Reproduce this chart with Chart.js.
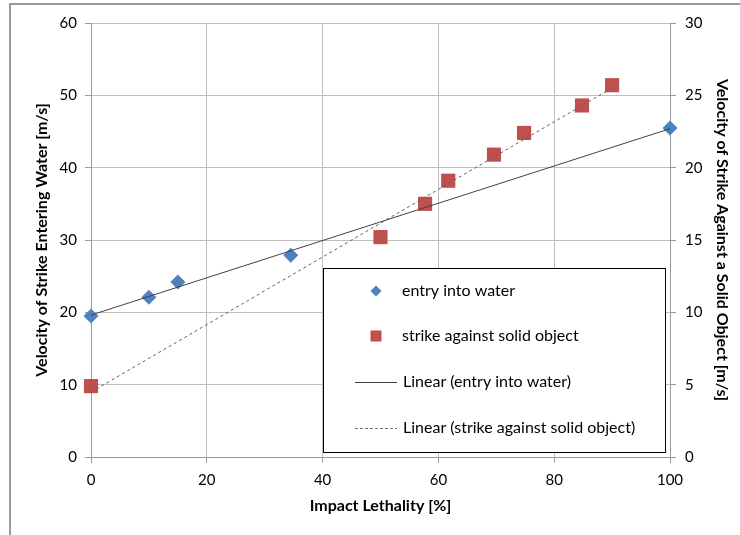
<!DOCTYPE html>
<html>
<head>
<meta charset="utf-8">
<script src="https://cdn.jsdelivr.net/npm/chart.js@4"></script>
<style>
  body { margin: 0; background: #fff; }
  #wrap { position: relative; width: 740px; height: 535px; }
</style>
</head>
<body>
<div id="wrap"><canvas id="strikeChart" width="740" height="535"></canvas></div>
<script>
const impactWater = [0, 10, 15, 34.5, 100];
const velocityWater = [19.5, 22.1, 24.2, 27.9, 45.5];
const impactSolid = [0, 50, 57.7, 61.7, 69.6, 74.8, 84.8, 90];
const velocitySolid = [4.9, 15.2, 17.5, 19.1, 20.9, 22.4, 24.3, 25.7];

const xTicks = [0, 20, 40, 60, 80, 100];
const leftTicks = [0, 10, 20, 30, 40, 50, 60];
const rightTicks = [0, 5, 10, 15, 20, 25, 30];

const legendLabels = [
  'entry into water',
  'strike against solid object',
  'Linear (entry into water)',
  'Linear (strike against solid object)'
];

const FONT = 'Lato, "Liberation Sans", sans-serif';
const BLUE = '#4F81BD';
const RED = '#C0504D';
const GRID = '#bfbfbf';

function linearFit(xs, ys) {
  const n = xs.length;
  const mx = xs.reduce((a, b) => a + b, 0) / n;
  const my = ys.reduce((a, b) => a + b, 0) / n;
  let sxy = 0, sxx = 0;
  for (let i = 0; i < n; i++) {
    sxy += (xs[i] - mx) * (ys[i] - my);
    sxx += (xs[i] - mx) * (xs[i] - mx);
  }
  const slope = sxy / sxx;
  return { slope: slope, intercept: my - slope * mx };
}

function trendPoints(xs, ys) {
  const fit = linearFit(xs, ys);
  const x0 = Math.min(...xs), x1 = Math.max(...xs);
  return [
    { x: x0, y: fit.intercept + fit.slope * x0 },
    { x: x1, y: fit.intercept + fit.slope * x1 }
  ];
}

function toPoints(xs, ys) {
  return xs.map((x, i) => ({ x: x, y: ys[i] }));
}

// outer frame + legend box, drawn by hand like the Excel original
const decorPlugin = {
  id: 'decor',
  beforeDraw(chart) {
    const ctx = chart.ctx;
    ctx.save();
    ctx.strokeStyle = '#9a9a9a';
    ctx.lineWidth = 2;
    ctx.beginPath();
    ctx.moveTo(10, 535);
    ctx.lineTo(10, 4);
    ctx.lineTo(740, 4);
    ctx.stroke();
    ctx.restore();
  },
  afterDraw(chart) {
    const ctx = chart.ctx;
    ctx.save();
    ctx.fillStyle = '#fff';
    ctx.fillRect(323.5, 268.5, 342, 184);
    ctx.strokeStyle = '#000';
    ctx.lineWidth = 1;
    ctx.strokeRect(323.5, 268.5, 342, 184);

    const rows = [291, 336, 382, 428];
    ctx.font = '16px ' + FONT;
    ctx.textBaseline = 'middle';

    // diamond
    ctx.fillStyle = BLUE;
    ctx.beginPath();
    ctx.moveTo(376, rows[0] - 5.5);
    ctx.lineTo(381.5, rows[0]);
    ctx.lineTo(376, rows[0] + 5.5);
    ctx.lineTo(370.5, rows[0]);
    ctx.closePath();
    ctx.fill();
    // square
    ctx.fillStyle = RED;
    ctx.fillRect(370.5, rows[1] - 5.5, 11, 11);
    // lines
    ctx.strokeStyle = '#404040';
    ctx.beginPath();
    ctx.moveTo(355, rows[2] + 0.5);
    ctx.lineTo(397, rows[2] + 0.5);
    ctx.stroke();
    ctx.setLineDash([3, 2]);
    ctx.strokeStyle = '#707070';
    ctx.beginPath();
    ctx.moveTo(355, rows[3] + 0.5);
    ctx.lineTo(397, rows[3] + 0.5);
    ctx.stroke();
    ctx.setLineDash([]);

    ctx.fillStyle = '#000';
    ctx.fillText(legendLabels[0], 402, rows[0]);
    ctx.fillText(legendLabels[1], 402, rows[1]);
    ctx.fillText(legendLabels[2], 403, rows[2]);
    ctx.fillText(legendLabels[3], 403, rows[3]);
    ctx.restore();
  }
};

const ctx = document.getElementById('strikeChart').getContext('2d');

new Chart(ctx, {
  type: 'scatter',
  data: {
    datasets: [
      {
        label: legendLabels[2],
        type: 'line',
        data: trendPoints(impactWater, velocityWater),
        yAxisID: 'y',
        borderColor: '#404040',
        borderWidth: 1,
        pointRadius: 0,
        fill: false,
        order: 0
      },
      {
        label: legendLabels[3],
        type: 'line',
        data: trendPoints(impactSolid, velocitySolid),
        yAxisID: 'y2',
        borderColor: '#606060',
        borderWidth: 1,
        borderDash: [3, 3],
        pointRadius: 0,
        fill: false,
        order: 1
      },
      {
        label: legendLabels[0],
        data: toPoints(impactWater, velocityWater),
        yAxisID: 'y',
        pointStyle: 'rectRot',
        pointRadius: 7.5,
        backgroundColor: BLUE,
        borderColor: BLUE,
        borderWidth: 0,
        clip: false,
        order: 2
      },
      {
        label: legendLabels[1],
        data: toPoints(impactSolid, velocitySolid),
        yAxisID: 'y2',
        pointStyle: 'rect',
        pointRadius: 10,
        backgroundColor: RED,
        borderColor: RED,
        borderWidth: 0,
        clip: false,
        order: 3
      }
    ]
  },
  options: {
    responsive: false,
    animation: false,
    layout: { padding: { top: 23, left: 0, right: 0, bottom: 0 } },
    plugins: {
      legend: { display: false },
      tooltip: { enabled: false }
    },
    scales: {
      x: {
        type: 'linear',
        min: 0,
        max: 100,
        afterBuildTicks: (scale) => { scale.ticks = xTicks.map(v => ({ value: v })); },
        afterFit: (scale) => { scale.height = 78; },
        grid: { color: GRID, tickLength: 6, tickColor: '#9a9a9a' },
        border: { color: '#9a9a9a' },
        ticks: { color: '#000', padding: 8, font: { family: FONT, size: 15 } },
        title: {
          display: true,
          text: 'Impact Lethality [%]',
          color: '#000',
          padding: { top: 0, bottom: 20 },
          font: { family: FONT, size: 16, weight: 'bold' }
        }
      },
      y: {
        position: 'left',
        min: 0,
        max: 60,
        afterBuildTicks: (scale) => { scale.ticks = leftTicks.map(v => ({ value: v })); },
        afterFit: (scale) => { scale.width = 91; },
        grid: { color: GRID, tickLength: 6, tickColor: '#9a9a9a' },
        border: { color: '#9a9a9a' },
        ticks: { color: '#000', padding: 8, font: { family: FONT, size: 15 } },
        title: {
          display: true,
          text: 'Velocity of Strike Entering Water [m/s]',
          color: '#000',
          padding: { top: 32, bottom: 0 },
          font: { family: FONT, size: 16, weight: 'bold' }
        }
      },
      y2: {
        position: 'right',
        min: 0,
        max: 30,
        afterBuildTicks: (scale) => { scale.ticks = rightTicks.map(v => ({ value: v })); },
        afterFit: (scale) => { scale.width = 70; },
        grid: { drawOnChartArea: false, tickLength: 6, tickColor: '#9a9a9a' },
        border: { color: '#9a9a9a' },
        ticks: { color: '#000', padding: 9, font: { family: FONT, size: 15 } },
        title: {
          display: true,
          text: 'Velocity of Strike Against a Solid Object [m/s]',
          color: '#000',
          padding: { top: 8, bottom: 0 },
          font: { family: FONT, size: 16, weight: 'bold' }
        }
      }
    }
  },
  plugins: [decorPlugin]
});
</script>
</body>
</html>
